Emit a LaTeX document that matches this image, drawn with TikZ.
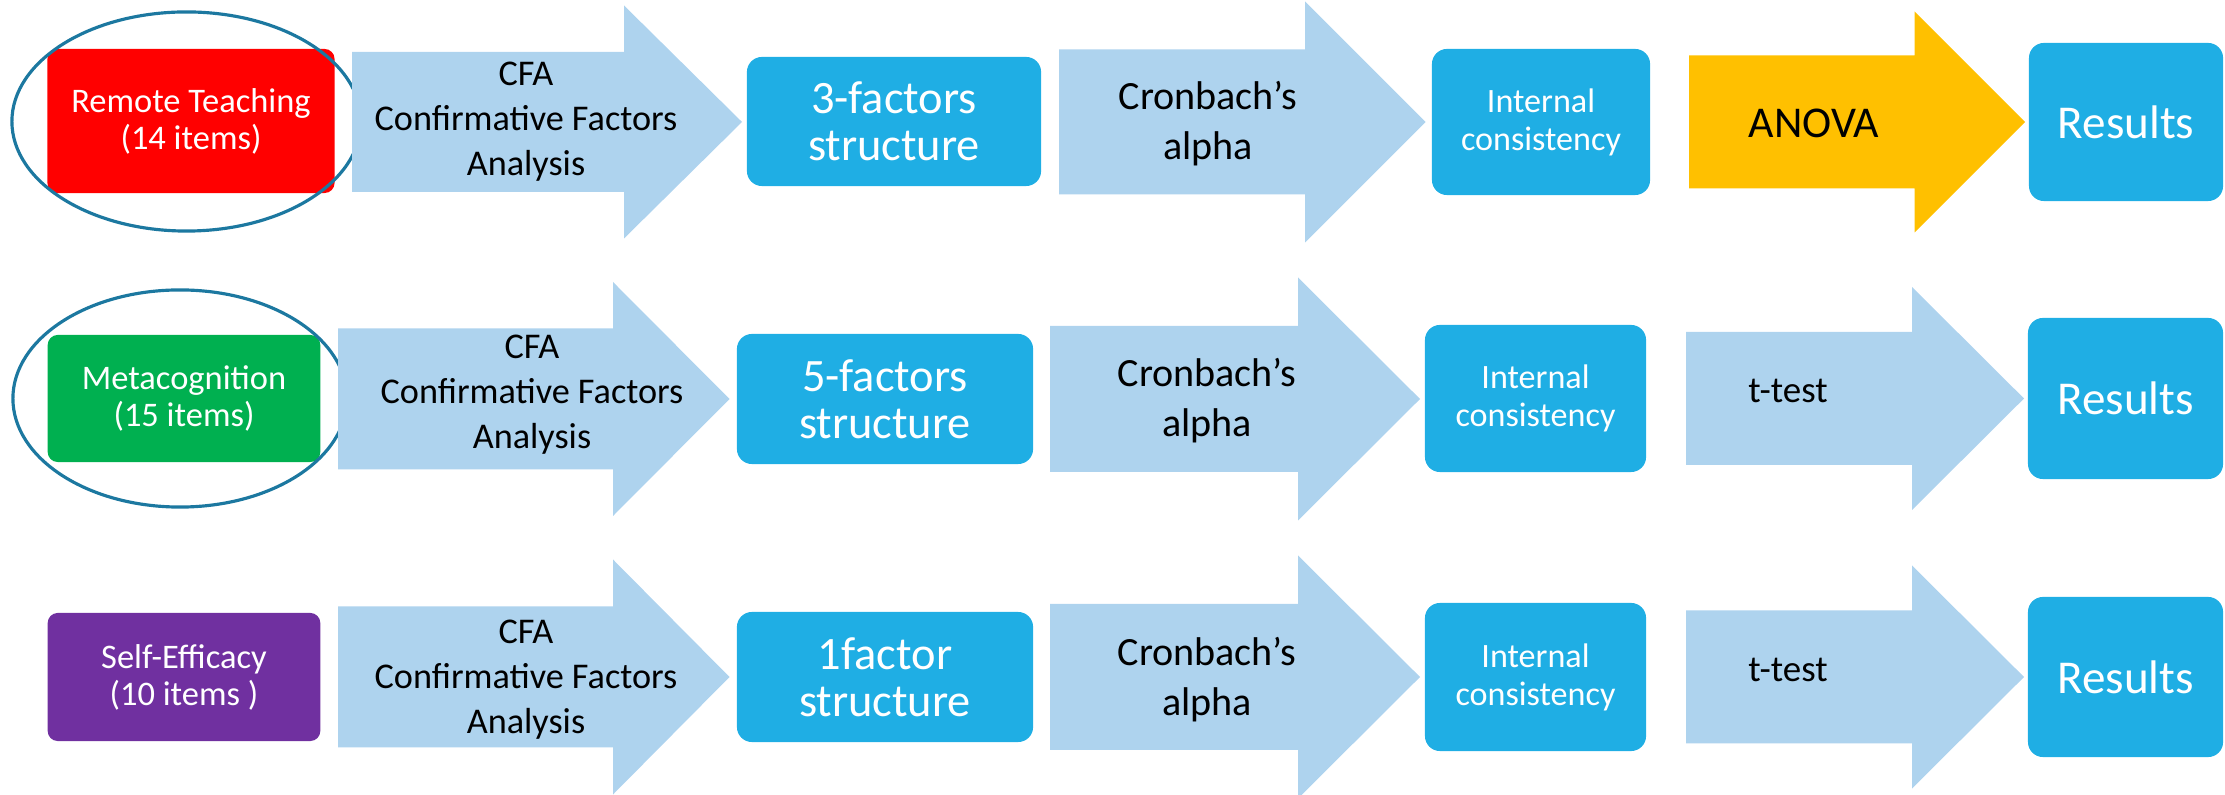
\documentclass[tikz,border=0pt]{standalone}
\usepackage{fontspec}
\setmainfont{Carlito}
\usepackage{xcolor}
\usepackage{tikz}
\usetikzlibrary{shapes.geometric}
\definecolor{ScaleRed}{HTML}{FF0000}
\definecolor{ScaleGreen}{HTML}{00B050}
\definecolor{ScalePurple}{HTML}{7030A0}
\definecolor{StepCyan}{HTML}{1FAEE4}
\definecolor{StepPale}{HTML}{AED3EE}
\definecolor{TestGold}{HTML}{FFC000}
\definecolor{RingBlue}{HTML}{1C78A0}
\tikzset{
  scalebox/.style={rounded corners=1mm,inner sep=0pt,align=center,text=white,font=\fontsize{9.8}{10.5}\selectfont},
  stepbox/.style={fill=StepCyan,rounded corners=1.5mm,inner sep=0pt,align=center,text=white},
  factorfont/.style={font=\fontsize{13.2}{13.3}\selectfont},
  consfont/.style={font=\fontsize{9.7}{10.8}\selectfont},
  resfont/.style={font=\fontsize{13.4}{14}\selectfont},
  paleshaft/.style={fill=StepPale},
  goldshaft/.style={fill=TestGold},
  shafttext/.style={align=center,text=black,inner sep=0pt},
  cfafont/.style={font=\fontsize{10.3}{12.8}\selectfont},
  alphafont/.style={font=\fontsize{11.4}{14.2}\selectfont},
  testfont/.style={font=\fontsize{10.5}{12}\selectfont},
  ring/.style={draw=RingBlue,line width=0.9pt,ellipse,inner sep=0pt}
}
% block arrow: style, tail x, head base x, tip x, mid y, half shaft, half head
\newcommand{\blockarrow}[7]{%
  \fill[#1] (#2,#5-#6) -- (#3,#5-#6) -- (#3,#5-#7) -- (#4,#5)
    -- (#3,#5+#7) -- (#3,#5+#6) -- (#2,#5+#6) -- cycle;}

\begin{document}
\begin{tikzpicture}[x=0.01cm,y=-0.01cm]
\useasboundingbox (0,0) rectangle (2225,795);
\node[scalebox,fill=ScaleRed,minimum width=2.87cm,minimum height=1.44cm] (rt) at (191,121) {Remote Teaching\\(14 items)};
\node[ring,minimum width=3.49cm,minimum height=2.19cm] (rtring) at (186.5,121.5) {};
\blockarrow{paleshaft}{352}{624}{742}{122}{70}{116.5}
\node[shafttext,cfafont] (cfa1) at (526,122) {CFA\\Confirmative Factors\\Analysis};
\node[stepbox,factorfont,minimum width=2.94cm,minimum height=1.29cm] (fs1) at (894,121.5) {3-factors\\structure};
\blockarrow{paleshaft}{1059}{1305}{1425.5}{122}{72.5}{120.5}
\node[shafttext,alphafont] (ca1) at (1208,123.5) {Cronbach’s\\alpha};
\node[stepbox,consfont,minimum width=2.18cm,minimum height=1.46cm] (ic1) at (1541,122) {Internal\\consistency};
\blockarrow{goldshaft}{1689}{1914.6}{2025}{122}{66.5}{110.5}
\node[shafttext,font=\fontsize{12.5}{13}\selectfont] (anova) at (1814,123) {ANOVA};
\node[stepbox,resfont,minimum width=1.94cm,minimum height=1.58cm] (res1) at (2126,122) {Results};

\node[scalebox,fill=ScaleGreen,minimum width=2.725cm,minimum height=1.27cm] (mc) at (184,398.5) {Metacognition\\(15 items)};
\node[ring,minimum width=3.34cm,minimum height=2.17cm] (mcring) at (180,398.5) {};
\blockarrow{paleshaft}{338}{613}{729.5}{399}{70.5}{117}
\node[shafttext,cfafont] (cfa2) at (532,395) {CFA\\Confirmative Factors\\Analysis};
\node[stepbox,factorfont,minimum width=2.96cm,minimum height=1.30cm] (fs2) at (885,399) {5-factors\\structure};
\blockarrow{paleshaft}{1050}{1298}{1420}{399}{73}{121.5}
\node[shafttext,alphafont] (ca2) at (1207,401) {Cronbach’s\\alpha};
\node[stepbox,consfont,minimum width=2.21cm,minimum height=1.47cm] (ic2) at (1535.5,398.5) {Internal\\consistency};
\blockarrow{paleshaft}{1686}{1912}{2024}{398.5}{66.5}{111.5}
\node[shafttext,testfont] (tt2) at (1788,391) {t-test};
\node[stepbox,resfont,minimum width=1.95cm,minimum height=1.61cm] (res2) at (2125.5,398.5) {Results};

\node[scalebox,fill=ScalePurple,minimum width=2.725cm,minimum height=1.28cm] (se) at (184,677) {Self-Efficacy\\(10 items )};
\blockarrow{paleshaft}{338}{613}{729.5}{677}{70.5}{117.5}
\node[shafttext,cfafont] (cfa3) at (526,680) {CFA\\Confirmative Factors\\Analysis};
\node[stepbox,factorfont,minimum width=2.96cm,minimum height=1.30cm] (fs3) at (885,677) {1factor\\structure};
\blockarrow{paleshaft}{1050}{1298}{1420}{677}{73}{121.5}
\node[shafttext,alphafont] (ca3) at (1207,680) {Cronbach’s\\alpha};
\node[stepbox,consfont,minimum width=2.21cm,minimum height=1.48cm] (ic3) at (1535.5,677) {Internal\\consistency};
\blockarrow{paleshaft}{1686}{1912}{2024}{677}{66.5}{111.5}
\node[shafttext,testfont] (tt3) at (1788,670) {t-test};
\node[stepbox,resfont,minimum width=1.95cm,minimum height=1.60cm] (res3) at (2125.5,677) {Results};
\end{tikzpicture}
\end{document}
